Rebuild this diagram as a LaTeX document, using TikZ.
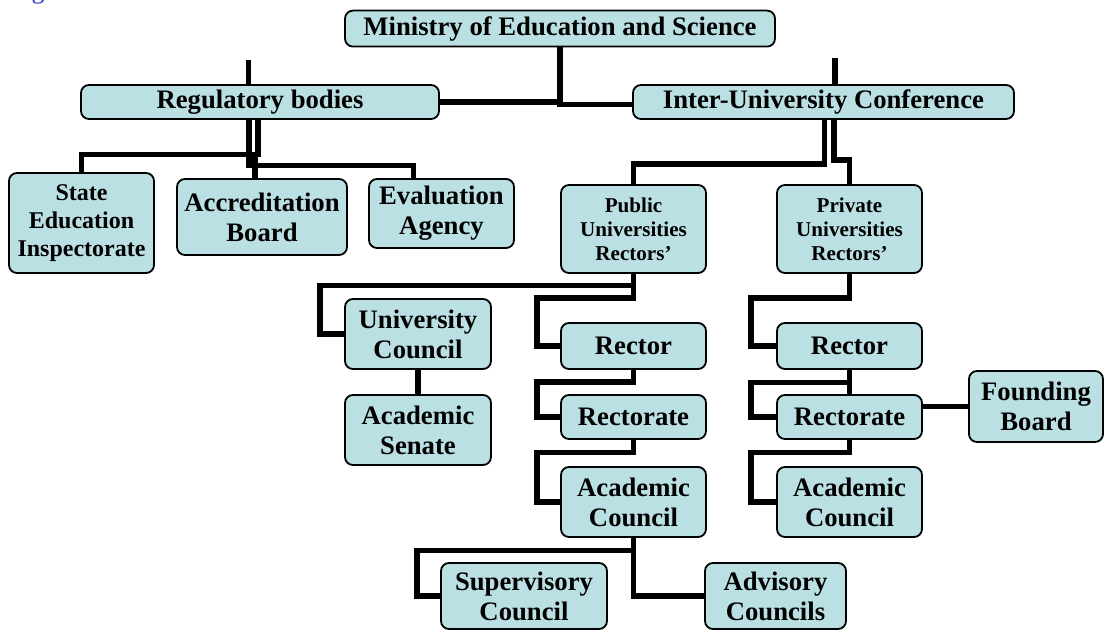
\documentclass[tikz,border=0pt]{standalone}
\usepackage{fontspec}
\setmainfont{Liberation Serif}
\definecolor{unitfill}{RGB}{187,224,227}
\definecolor{capblue}{RGB}{45,45,200}
\tikzset{
	unit/.style={draw,line width=1.8pt,fill=unitfill,rounded corners=8pt,align=center,inner sep=0pt},
	big/.style={font=\fontsize{26.7}{30}\selectfont\bfseries},
	mid/.style={font=\fontsize{24}{28}\selectfont\bfseries},
	small/.style={font=\fontsize{21.1}{24}\selectfont\bfseries},
	link/.style={line width=5.5pt},
}
\begin{document}
\begin{tikzpicture}[x=1pt,y=-1pt]
	\useasboundingbox (0,0) rectangle (1105,631);
	\node[text=capblue,font=\fontsize{26}{30}\selectfont,anchor=base] (cap) at (38,-1.5) {g};
	% boxes: name/font/centre x/centre y/width/height/text
	\foreach \n/\sty/\x/\y/\w/\h/\txt in {
		min/big/560/28.6/430/36/{Ministry of Education and Science},
		reg/big/260/102/358/34/{Regulatory bodies},
		iuc/big/823.5/102/381/34/{Inter-University Conference},
		sei/mid/81.5/223/145/100/{State\\Education\\Inspectorate},
		acc/big/262/217/170/76/{Accreditation\\Board},
		eva/big/441.5/213.5/145/69/{Evaluation\\Agency},
		pub/small/633.5/229/145/88/{Public\\Universities\\Rectors'},
		pri/small/849.5/229/145/88/{Private\\Universities\\Rectors'},
		uc/big/418/334/146/70/{University\\Council},
		sen/big/418/430/146/70/{Academic\\Senate},
		rec1/big/633.5/346/145/46/{Rector},
		rat1/big/633.5/417/145/44/{Rectorate},
		ac1/big/633.5/502/145/70/{Academic\\Council},
		rec2/big/849.5/346/145/46/{Rector},
		rat2/big/849.5/417/145/44/{Rectorate},
		ac2/big/849.5/502/145/70/{Academic\\Council},
		fb/big/1036/406.5/134/71/{Founding\\Board},
		sup/big/524/596/166/66/{Supervisory\\Council},
		adv/big/775.5/596/141/66/{Advisory\\Councils}}
		\node[unit,\sty,minimum width=\w pt,minimum height=\h pt] (\n) at (\x,\y) {\txt};
	\path
	(248.5,60) coordinate (regtop) (835,58) coordinate (iuctop)
	(258,154.5) coordinate (r1) (249,165.5) coordinate (r3) (255,154.5) coordinate (r5)
	(824.5,164) coordinate (i1) (834,160) coordinate (i3)
	(320,285.5) coordinate (p2) (537,298) coordinate (p4) (537,382) coordinate (p5)
	(537,452.5) coordinate (p6) (417,550.5) coordinate (p7)
	(751,298) coordinate (q1) (751,382.5) coordinate (q2) (751,452.5) coordinate (q3)
	;
	% top level
	\draw[link] (regtop) -- (regtop |- reg.north) (iuctop) -- (iuctop |- iuc.north);
	\draw[link] (reg.east) -| (min.south) (min.south) |- ([yshift=-2.5pt]iuc.west);
	% regulatory bodies
	\draw[link] (reg.south -| r1) -- (r1) -| (sei.north);
	\draw[link] (reg.south -| r3) -- (r3) -| ([xshift=-28pt]eva.north);
	\draw[link] (r5) -- (r5 |- acc.north);
	% conference
	\draw[link] (iuc.south -| i1) -- (i1) -| (pub.north);
	\draw[link] (iuc.south -| i3) -- (i3) -| (pri.north);
	% university bodies
	\foreach \a/\b/\c in {pub/p2/uc,pub/p4/rec1,rec1/p5/rat1,rat1/p6/ac1,ac1/p7/sup,
		pri/q1/rec2,rec2/q2/rat2,rat2/q3/ac2}
		\draw[link] (\a.south) |- (\b) |- (\c.west);
	\draw[link] (uc) -- (sen) (rec2) -- (rat2) (ac1.south) |- (adv.west);
	\draw[link] (rat2.east |- fb.west) -- (fb.west);
\end{tikzpicture}
\end{document}
